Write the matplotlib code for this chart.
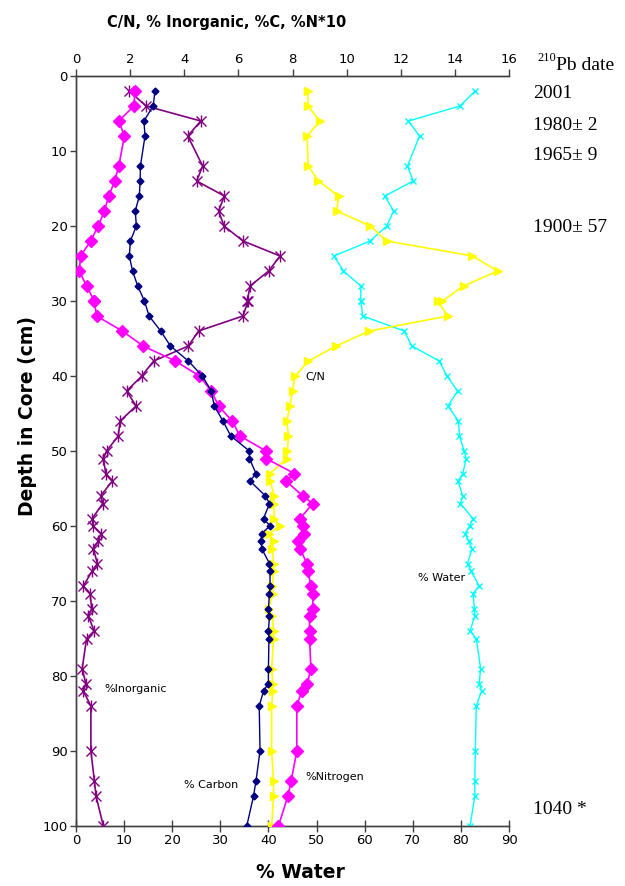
import matplotlib
matplotlib.use("Agg")
import matplotlib.pyplot as plt

# ---------------- data ----------------
depth = [2, 4, 6, 8, 12, 14, 16, 18, 20, 22, 24, 26, 28, 30, 30, 32, 34, 36, 38, 40,
         42, 44, 46, 48, 50, 51, 53, 54, 56, 57, 59, 60, 61, 62, 63, 65, 66, 68, 69, 71,
         72, 74, 75, 79, 81, 82, 84, 90, 94, 96, 100]

inorganic = [1.96, 2.59, 4.61, 4.13, 4.68, 4.46, 5.48, 5.27, 5.47, 6.17, 7.54, 7.12, 6.43, 6.33, 6.36,
             6.17, 4.53, 4.15, 2.87, 2.43, 1.87, 2.22, 1.63, 1.56, 1.13, 1.01, 1.10, 1.34, 0.91, 0.99,
             0.60, 0.64, 0.92, 0.82, 0.64, 0.79, 0.60, 0.27, 0.52, 0.58, 0.46, 0.67, 0.39, 0.23, 0.36,
             0.27, 0.55, 0.55, 0.68, 0.74, 1.01]

carbon = [2.92, 2.85, 2.51, 2.55, 2.38, 2.37, 2.34, 2.19, 2.23, 2.01, 1.97, 2.09, 2.28, 2.53, 2.53,
          2.70, 3.13, 3.49, 4.15, 4.67, 5.00, 5.11, 5.43, 5.72, 6.41, 6.41, 6.65, 6.43, 7.00, 7.15,
          6.93, 7.17, 6.86, 6.84, 6.86, 7.15, 7.17, 7.17, 7.15, 7.11, 7.15, 7.11, 7.13, 7.11, 7.11,
          6.93, 6.77, 6.80, 6.65, 6.56, 6.31]

nitrogen10 = [2.18, 2.14, 1.58, 1.79, 1.58, 1.43, 1.21, 1.05, 0.82, 0.54, 0.17, 0.12, 0.39, 0.68, 0.68,
              0.76, 1.71, 2.48, 3.67, 4.56, 5.00, 5.27, 5.77, 6.06, 7.02, 7.02, 8.07, 7.76, 8.38, 8.75,
              8.28, 8.37, 8.44, 8.20, 8.28, 8.53, 8.57, 8.68, 8.77, 8.74, 8.63, 8.63, 8.63, 8.68, 8.55,
              8.34, 8.16, 8.16, 7.95, 7.83, 7.48]

cn_ratio = [8.57, 8.57, 9.01, 8.54, 8.58, 8.96, 9.70, 9.64, 10.87, 11.49, 14.65, 15.58, 14.32, 13.54, 13.36,
            13.74, 10.84, 9.61, 8.59, 8.10, 8.00, 7.91, 7.79, 7.85, 7.81, 7.79, 7.17, 7.17, 7.33, 7.30,
            7.33, 7.52, 7.14, 7.30, 7.26, 7.30, 7.30, 7.26, 7.27, 7.12, 7.26, 7.30, 7.30, 7.23, 7.27,
            7.27, 7.23, 7.23, 7.30, 7.30, 7.23]

water = [82.95, 79.8, 69.1, 71.4, 68.9, 70.1, 64.2, 66.0, 64.6, 61.1, 53.6, 55.6, 59.2, 59.2, 59.2,
         59.6, 68.2, 69.8, 75.5, 77.1, 79.3, 77.3, 79.5, 79.7, 80.7, 81.1, 80.4, 79.4, 80.4, 79.9,
         82.5, 81.8, 80.9, 81.6, 82.3, 81.4, 82.1, 83.8, 82.5, 82.8, 82.9, 81.9, 83.2, 84.1, 83.8,
         84.3, 83.2, 83.0, 82.9, 82.9, 81.9]

top_ticks = [0, 2, 4, 6, 8, 10, 12, 14, 16]
bottom_ticks = [0, 10, 20, 30, 40, 50, 60, 70, 80, 90]
depth_ticks = [0, 10, 20, 30, 40, 50, 60, 70, 80, 90, 100]

date_labels = ["2001", "1980\u00b1 2", "1965\u00b1 9", "1900\u00b1 57", "1040 *"]

# ---------------- figure ----------------
W, H = 625, 886
fig = plt.figure(figsize=(W / 100, H / 100), dpi=100)

def fx(px):
    return px / W

def fy(py):
    return 1 - py / H

L, R, T, B = 76, 509, 76, 826
ax_w = fig.add_axes([fx(L), fy(B), fx(R) - fx(L), fy(T) - fy(B)])
ax_t = ax_w.twiny()

spine_col = "#404040"
for a in (ax_w, ax_t):
    a.spines["right"].set_visible(False)
    for s in ("left", "top", "bottom"):
        a.spines[s].set_color(spine_col)
        a.spines[s].set_linewidth(1.0)

# water on bottom axis
ax_w.plot(water, depth, color="#00FFFF", lw=1.0, marker="x", ms=4.5, mew=1.0, zorder=3)
ax_w.set_xlim(0, 90)
ax_w.set_ylim(100, 0)
ax_w.set_xticks(bottom_ticks)
ax_w.set_yticks(depth_ticks)
ax_w.tick_params(axis="x", direction="inout", length=8, width=1, color=spine_col,
                 labelsize=9.5, pad=2)
ax_w.tick_params(axis="y", direction="out", length=4, width=1, color=spine_col,
                 labelsize=9.5, pad=2)

# top axis series
ax_t.plot(inorganic, depth, color="#800080", lw=1.2, marker="x", ms=7, mew=1.0, zorder=4)
ax_t.plot(inorganic, depth, color="#800080", lw=0, marker="|", ms=9, mew=1.0, zorder=4)
ax_t.plot(carbon, depth, color="#000080", lw=1.0, marker="D", ms=3.5, zorder=5)
ax_t.plot(nitrogen10, depth, color="#FF00FF", lw=1.2, marker="D", ms=6, zorder=4)
ax_t.plot(cn_ratio, depth, color="#FFFF00", lw=1.2, marker=">", ms=5.5, zorder=3)
ax_t.set_xlim(0, 16)
ax_t.set_ylim(100, 0)
ax_t.set_xticks(top_ticks)
ax_t.tick_params(axis="x", direction="out", length=5, width=1, color=spine_col,
                 labelsize=9.5, pad=2)

# axis titles (placed as in the reference)
fig.text(fx(227), fy(22), "C/N, % Inorganic, %C, %N*10", fontsize=10.5, fontweight="bold",
         ha="center", va="center")
fig.text(fx(300), fy(873), "% Water", fontsize=13.5, fontweight="bold",
         ha="center", va="center")
fig.text(fx(28), fy(416), "Depth in Core (cm)", fontsize=13.5, fontweight="bold",
         ha="center", va="center", rotation=90)

# in-plot series labels
def axf(px, py):
    return ((px - L) / (R - L), 1 - (py - T) / (B - T))

for txt, (px, py) in [("C/N", (305, 377)), ("% Water", (418, 578)),
                      ("%Inorganic", (104, 689)), ("% Carbon", (184, 785)),
                      ("%Nitrogen", (305, 777))]:
    x, y = axf(px, py)
    ax_w.text(x, y, txt, transform=ax_w.transAxes, fontsize=8, ha="left", va="center",
              color="black", zorder=6)

# 210Pb dates
serif = ["Liberation Serif", "DejaVu Serif"]
fig.text(fx(537), fy(58), "210", fontsize=9, family=serif, ha="left", va="center")
fig.text(fx(556), fy(65), "Pb date", fontsize=14, family=serif, ha="left", va="center")
for lab, py in zip(date_labels, [93, 126, 155, 228, 810]):
    fig.text(fx(533), fy(py), lab, fontsize=14, family=serif, ha="left", va="center")

fig.savefig("out.png", dpi=100)
